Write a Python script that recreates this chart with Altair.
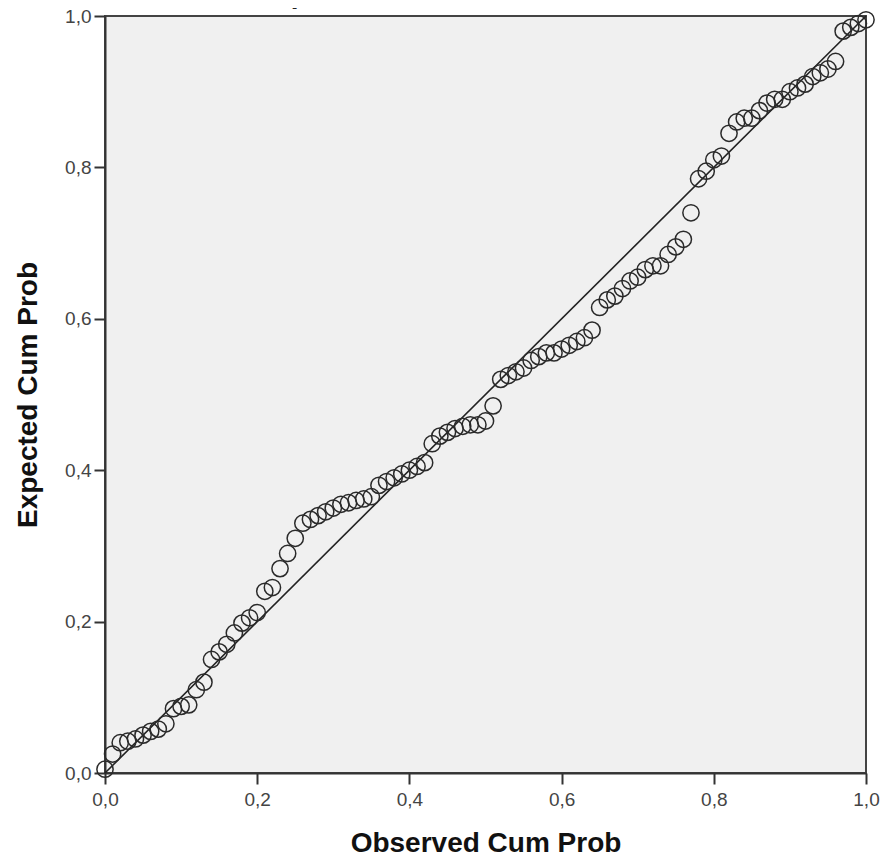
import altair as alt
import pandas as pd

observed = [0.00, 0.01, 0.02, 0.03, 0.04, 0.05, 0.06, 0.07, 0.08, 0.09,
            0.10, 0.11, 0.12, 0.13, 0.14, 0.15, 0.16, 0.17, 0.18, 0.19,
            0.20, 0.21, 0.22, 0.23, 0.24, 0.25, 0.26, 0.27, 0.28, 0.29,
            0.30, 0.31, 0.32, 0.33, 0.34, 0.35, 0.36, 0.37, 0.38, 0.39,
            0.40, 0.41, 0.42, 0.43, 0.44, 0.45, 0.46, 0.47, 0.48, 0.49,
            0.50, 0.51, 0.52, 0.53, 0.54, 0.55, 0.56, 0.57, 0.58, 0.59,
            0.60, 0.61, 0.62, 0.63, 0.64, 0.65, 0.66, 0.67, 0.68, 0.69,
            0.70, 0.71, 0.72, 0.73, 0.74, 0.75, 0.76, 0.77, 0.78, 0.79,
            0.80, 0.81, 0.82, 0.83, 0.84, 0.85, 0.86, 0.87, 0.88, 0.89,
            0.90, 0.91, 0.92, 0.93, 0.94, 0.95, 0.96, 0.97, 0.98, 0.99, 1.00]
expected = [0.005, 0.025, 0.040, 0.042, 0.045, 0.050, 0.055, 0.058, 0.065, 0.085,
            0.088, 0.090, 0.110, 0.120, 0.150, 0.160, 0.170, 0.185, 0.198, 0.205,
            0.212, 0.240, 0.245, 0.270, 0.290, 0.310, 0.330, 0.335, 0.340, 0.345,
            0.350, 0.355, 0.357, 0.360, 0.362, 0.365, 0.380, 0.385, 0.390, 0.395,
            0.400, 0.405, 0.410, 0.435, 0.445, 0.450, 0.455, 0.458, 0.460, 0.460,
            0.465, 0.485, 0.520, 0.525, 0.530, 0.535, 0.545, 0.550, 0.555, 0.555,
            0.560, 0.565, 0.570, 0.575, 0.585, 0.615, 0.625, 0.630, 0.640, 0.650,
            0.655, 0.665, 0.670, 0.670, 0.685, 0.695, 0.705, 0.740, 0.785, 0.795,
            0.810, 0.815, 0.845, 0.860, 0.865, 0.865, 0.875, 0.885, 0.890, 0.890,
            0.900, 0.905, 0.910, 0.920, 0.925, 0.930, 0.940, 0.980, 0.985, 0.990, 0.995]

ref_x = [0.0, 1.0]
ref_y = [0.0, 1.0]
tick_values = [0.0, 0.2, 0.4, 0.6, 0.8, 1.0]

title_text = "Dependent Variable: DVAR"
x_title = "Observed Cum Prob"
y_title = "Expected Cum Prob"

pts = pd.DataFrame({"observed": observed, "expected": expected})
ref = pd.DataFrame({"observed": ref_x, "expected": ref_y})

FONT = "Liberation Sans"
label_expr = "replace(format(datum.value, '.1f'), '.', ',')"

xscale = alt.Scale(domain=[0, 1], nice=False, zero=False)
yscale = alt.Scale(domain=[0, 1], nice=False, zero=False)

xaxis = alt.Axis(values=tick_values, labelExpr=label_expr,
                 grid=False, tickSize=11, tickWidth=2, tickColor="#333",
                 domainColor="#333", domainWidth=2, labelFont=FONT, labelFontSize=19,
                 labelColor="#444", labelPadding=6, title=x_title, titleFont=FONT,
                 titleFontSize=28, titleFontWeight="bold", titleColor="#111",
                 titlePadding=20, labelFlush=False)
yaxis = alt.Axis(values=tick_values, labelExpr=label_expr,
                 grid=False, tickSize=11, tickWidth=2, tickColor="#333",
                 domainColor="#333", domainWidth=2, labelFont=FONT, labelFontSize=19,
                 labelColor="#444", labelPadding=3, title=y_title, titleFont=FONT,
                 titleFontSize=28, titleFontWeight="bold", titleColor="#111",
                 titlePadding=22, labelFlush=False)

line = alt.Chart(ref).mark_line(color="#222", strokeWidth=1.6).encode(
    x=alt.X("observed:Q", scale=xscale, axis=xaxis),
    y=alt.Y("expected:Q", scale=yscale, axis=yaxis),
)

points = alt.Chart(pts).mark_point(shape="circle", filled=False, size=265,
                                   stroke="#2a2a2a", strokeWidth=1.5, opacity=1).encode(
    x=alt.X("observed:Q", scale=xscale),
    y=alt.Y("expected:Q", scale=yscale),
)

title = alt.Chart(pd.DataFrame({"t": [title_text]})).mark_text(
    font=FONT, fontSize=28, fontWeight="bold", color="#222",
    baseline="alphabetic", align="center").encode(
    x=alt.value(327), y=alt.value(-13), text="t:N")

chart = alt.layer(line, points, title).properties(
    width=761, height=757,
    autosize=alt.AutoSizeParams(type="none"),
    padding={"left": 97, "top": 8, "right": 18, "bottom": 87},
    background="white",
).configure_view(fill="#f0f0f0", stroke="#444", strokeWidth=2)

chart.save("out.html", embed_options={"renderer": "svg", "actions": False})
